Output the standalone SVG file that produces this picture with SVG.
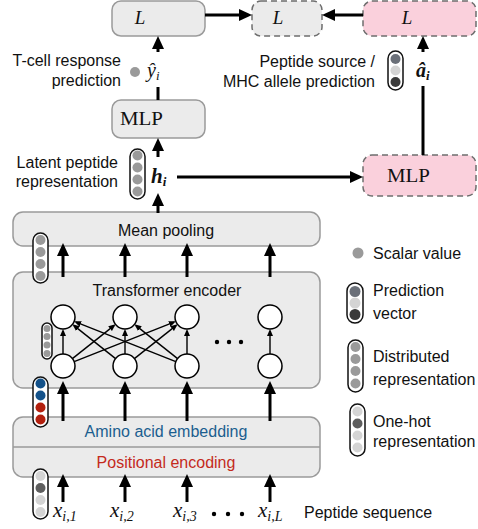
<svg xmlns="http://www.w3.org/2000/svg" width="478" height="529" viewBox="0 0 478 529">
<style>
.box{fill:#ebebeb;stroke:#9a9a9a;stroke-width:1.5}
.gdash{fill:#ebebeb;stroke:#6e6e6e;stroke-width:1.5;stroke-dasharray:6 4}
.pink{fill:#fad0dc;stroke:#6e6e6e;stroke-width:1.5;stroke-dasharray:6 4}
.lbl{font-family:"Liberation Sans",Arial,Helvetica,sans-serif;font-size:16px;fill:#111}
.math{font-family:"Liberation Serif","Times New Roman",serif;font-style:italic;fill:#111}
.rm{font-family:"Liberation Serif","Times New Roman",serif;fill:#111}
.pill{fill:#fff;stroke:#111;stroke-width:1.5}
.g{fill:#9a9a9a}
.lt{fill:#d4d4d4}
.dk{fill:#5e5e5e}
.bl{fill:#14528a}
.rd{fill:#b3200e}
.arr{stroke:#000;stroke-width:3;fill:none;marker-end:url(#ah)}
.ln{stroke:#000;stroke-width:3;fill:none}
.sarr{stroke:#000;stroke-width:1.4;fill:none;marker-end:url(#sah)}
.node{fill:#fff;stroke:#000;stroke-width:1.5}
</style>
<defs>
<marker id="ah" viewBox="0 0 13 12" refX="7" refY="6" markerWidth="13" markerHeight="12" markerUnits="userSpaceOnUse" orient="auto">
<path d="M0,0 L13,6 L0,12 z" fill="#000"/>
</marker>
<marker id="sah" viewBox="0 0 7 6" refX="5" refY="3" markerWidth="7" markerHeight="6" markerUnits="userSpaceOnUse" orient="auto">
<path d="M0,0 L7,3 L0,6 z" fill="#000"/>
</marker>
</defs>

<g id="loss-tcell">
<rect class="box" x="112" y="1" width="93" height="35" rx="9"/>
<text class="math" x="140" y="24" font-size="19" text-anchor="middle">L</text>
</g>
<g id="loss-total">
<rect class="gdash" x="252" y="1" width="70" height="35" rx="9"/>
<text class="math" x="278" y="24" font-size="19" text-anchor="middle">L</text>
</g>
<g id="loss-aux">
<rect class="pink" x="363" y="1" width="113" height="35" rx="9"/>
<text class="math" x="407" y="24" font-size="19" text-anchor="middle">L</text>
</g>

<g id="mlp-tcell">
<rect class="box" x="112" y="100" width="93" height="38" rx="9"/>
<text class="rm" x="120" y="125" font-size="19" textLength="43" lengthAdjust="spacingAndGlyphs">MLP</text>
</g>
<g id="mlp-aux">
<rect class="pink" x="363" y="155" width="113" height="41" rx="9"/>
<text class="rm" x="387" y="182" font-size="19" textLength="43" lengthAdjust="spacingAndGlyphs">MLP</text>
</g>

<g id="mean-pooling">
<rect class="box" x="13" y="212" width="307" height="34" rx="10"/>
<text class="lbl" x="166" y="236" text-anchor="middle">Mean pooling</text>
</g>

<g id="transformer-encoder">
<rect class="box" x="13" y="272" width="307" height="116" rx="10"/>
<text class="lbl" x="167" y="296" text-anchor="middle">Transformer encoder</text>
</g>

<g id="embedding">
<rect class="box" x="13" y="417" width="307" height="60" rx="10"/>
<line x1="13" y1="447" x2="320" y2="447" stroke="#9a9a9a" stroke-width="1.5"/>
<text class="lbl" x="166" y="437" text-anchor="middle" style="fill:#1b5e8f">Amino acid embedding</text>
<text class="lbl" x="166" y="468" text-anchor="middle" style="fill:#c42a1c">Positional encoding</text>
</g>

<g id="connectors">
<line class="arr" x1="205" y1="15" x2="246" y2="15"/>
<line class="arr" x1="363" y1="15" x2="328" y2="15"/>
<line class="arr" x1="158" y1="52" x2="158" y2="42"/>
<line class="ln" x1="158" y1="87" x2="158" y2="100"/>
<line class="arr" x1="158" y1="157" x2="158" y2="144"/>
<line class="arr" x1="158" y1="213" x2="158" y2="199"/>
<line class="arr" x1="177" y1="177" x2="357" y2="177"/>
<line class="ln" x1="423" y1="155" x2="423" y2="86"/>
<line class="arr" x1="423" y1="52" x2="423" y2="42"/>
<line class="arr" x1="63" y1="277" x2="63" y2="249"/>
<line class="arr" x1="125" y1="277" x2="125" y2="249"/>
<line class="arr" x1="187" y1="277" x2="187" y2="249"/>
<line class="arr" x1="270" y1="277" x2="270" y2="249"/>
<line class="arr" x1="63" y1="421" x2="63" y2="387"/>
<line class="arr" x1="125" y1="421" x2="125" y2="387"/>
<line class="arr" x1="187" y1="421" x2="187" y2="387"/>
<line class="arr" x1="270" y1="421" x2="270" y2="387"/>
<line class="arr" x1="63" y1="502" x2="63" y2="480"/>
<line class="arr" x1="125" y1="502" x2="125" y2="480"/>
<line class="arr" x1="187" y1="502" x2="187" y2="480"/>
<line class="arr" x1="270" y1="502" x2="270" y2="480"/>
<line class="sarr" x1="63" y1="354" x2="63" y2="331"/>
<line class="sarr" x1="125" y1="354" x2="125" y2="331"/>
<line class="sarr" x1="187" y1="354" x2="187" y2="331"/>
<line class="sarr" x1="270" y1="354" x2="270" y2="331"/>
<line class="sarr" x1="72.4" y1="358.6" x2="114" y2="325.6"/>
<line class="sarr" x1="74.2" y1="361.6" x2="174" y2="322.1"/>
<line class="sarr" x1="115.6" y1="358.6" x2="74" y2="325.6"/>
<line class="sarr" x1="134.4" y1="358.6" x2="176" y2="325.6"/>
<line class="sarr" x1="175.8" y1="361.6" x2="76" y2="322.1"/>
<line class="sarr" x1="177.6" y1="358.6" x2="136" y2="325.6"/>
</g>

<g id="attention-nodes">
<circle class="node" cx="63" cy="317" r="12"/>
<circle class="node" cx="125" cy="317" r="12"/>
<circle class="node" cx="187" cy="317" r="12"/>
<circle class="node" cx="270" cy="317" r="12"/>
<circle class="node" cx="63" cy="366" r="12"/>
<circle class="node" cx="125" cy="366" r="12"/>
<circle class="node" cx="187" cy="366" r="12"/>
<circle class="node" cx="270" cy="366" r="12"/>
<circle cx="217" cy="342" r="2.2"/>
<circle cx="229" cy="342" r="2.2"/>
<circle cx="241" cy="342" r="2.2"/>
</g>

<g id="labels-left">
<text class="lbl" x="121" y="66" text-anchor="end">T-cell response</text>
<text class="lbl" x="121" y="86" text-anchor="end">prediction</text>
<circle class="g" cx="135" cy="72" r="5"/>
<text class="math" x="147" y="77" font-size="20">ŷ<tspan font-size="13" dy="3">i</tspan></text>
<text class="lbl" x="118" y="168" text-anchor="end">Latent peptide</text>
<text class="lbl" x="118" y="187" text-anchor="end">representation</text>
<text class="math" x="151" y="183" font-size="21" font-weight="bold">h<tspan font-size="13" dy="3">i</tspan></text>
</g>

<g id="labels-right">
<text class="lbl" x="375" y="67" text-anchor="end">Peptide source /</text>
<text class="lbl" x="375" y="87" text-anchor="end">MHC allele prediction</text>
<text class="math" x="416" y="77" font-size="20" font-weight="bold">â<tspan font-size="13" dy="3">i</tspan></text>
</g>

<g id="vec-h">
<rect class="pill" x="130" y="149" width="15" height="50" rx="7.5"/>
<circle class="g" cx="137.5" cy="155.5" r="5"/>
<circle class="g" cx="137.5" cy="167.5" r="5"/>
<circle class="g" cx="137.5" cy="179.5" r="5"/>
<circle class="g" cx="137.5" cy="191.5" r="5"/>
</g>
<g id="vec-pool">
<rect class="pill" x="33" y="233" width="15" height="50" rx="7.5"/>
<circle class="g" cx="40.5" cy="240" r="5"/>
<circle class="g" cx="40.5" cy="252" r="5"/>
<circle class="g" cx="40.5" cy="264" r="5"/>
<circle class="g" cx="40.5" cy="276" r="5"/>
</g>
<g id="vec-attn">
<rect class="pill" x="42" y="323" width="10" height="36" rx="5"/>
<circle class="g" cx="47" cy="328.5" r="3.5"/>
<circle class="g" cx="47" cy="336.5" r="3.5"/>
<circle class="g" cx="47" cy="345" r="3.5"/>
<circle class="g" cx="47" cy="353.5" r="3.5"/>
</g>
<g id="vec-emb">
<rect class="pill" x="33" y="377" width="15" height="50" rx="7.5"/>
<circle class="bl" cx="40.5" cy="383.5" r="5"/>
<circle class="bl" cx="40.5" cy="395.5" r="5"/>
<circle class="rd" cx="40.5" cy="407.5" r="5"/>
<circle class="rd" cx="40.5" cy="419.5" r="5"/>
</g>
<g id="vec-onehot">
<rect class="pill" x="33" y="469" width="15" height="50" rx="7.5"/>
<circle class="lt" cx="40.5" cy="476" r="5"/>
<circle class="dk" cx="40.5" cy="488" r="5"/>
<circle class="lt" cx="40.5" cy="500" r="5"/>
<circle class="lt" cx="40.5" cy="512" r="5"/>
</g>
<g id="vec-pred">
<rect class="pill" x="388" y="51" width="15" height="39" rx="7.5"/>
<circle cx="395.5" cy="59" r="5" fill="#6b7079"/>
<circle class="lt" cx="395.5" cy="70.5" r="5"/>
<circle cx="395.5" cy="82" r="5" fill="#3a3a3a"/>
</g>

<g id="inputs">
<text class="math" x="53" y="517" font-size="21">x<tspan font-size="14" dy="4">i,1</tspan></text>
<text class="math" x="110" y="517" font-size="21">x<tspan font-size="14" dy="4">i,2</tspan></text>
<text class="math" x="173" y="517" font-size="21">x<tspan font-size="14" dy="4">i,3</tspan></text>
<text class="math" x="258" y="517" font-size="21">x<tspan font-size="14" dy="4">i,L</tspan></text>
<circle cx="214" cy="514" r="2.2"/>
<circle cx="228" cy="514" r="2.2"/>
<circle cx="242" cy="514" r="2.2"/>
<text class="lbl" x="304" y="518">Peptide sequence</text>
</g>

<g id="legend">
<circle class="g" cx="358" cy="253" r="5.5"/>
<text class="lbl" x="373" y="259">Scalar value</text>
<rect class="pill" x="347" y="283" width="16" height="40" rx="8"/>
<circle cx="355" cy="291.5" r="5.5" fill="#6b7079"/>
<circle class="lt" cx="355" cy="303" r="5.5"/>
<circle cx="355" cy="314.5" r="5.5" fill="#3a3a3a"/>
<text class="lbl" x="373" y="296">Prediction</text>
<text class="lbl" x="373" y="319">vector</text>
<rect class="pill" x="348" y="340" width="15" height="52" rx="7.5"/>
<circle class="g" cx="355.5" cy="347" r="5"/>
<circle class="g" cx="355.5" cy="359" r="5"/>
<circle class="g" cx="355.5" cy="371" r="5"/>
<circle class="g" cx="355.5" cy="383.5" r="5"/>
<text class="lbl" x="373" y="362">Distributed</text>
<text class="lbl" x="373" y="385">representation</text>
<rect class="pill" x="350" y="404" width="15" height="52" rx="7.5"/>
<circle class="lt" cx="357.5" cy="411.5" r="5"/>
<circle class="dk" cx="357.5" cy="423.5" r="5"/>
<circle class="lt" cx="357.5" cy="435.5" r="5"/>
<circle class="lt" cx="357.5" cy="447.5" r="5"/>
<text class="lbl" x="373" y="427">One-hot</text>
<text class="lbl" x="373" y="447">representation</text>
</g>
</svg>
